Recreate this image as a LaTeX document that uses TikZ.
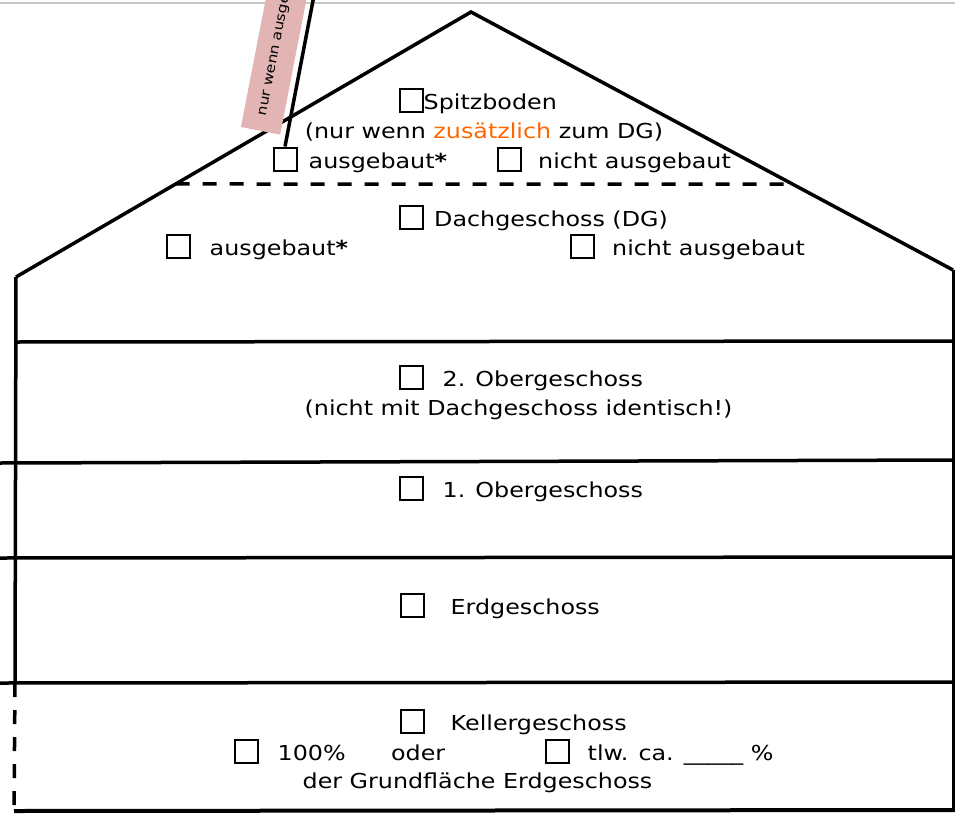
\documentclass[tikz,border=0pt]{standalone}
\usepackage{fontspec}
\setmainfont{DejaVu Sans}[FakeStretch=1.155]
\usetikzlibrary{positioning,calc}
\definecolor{tagpink}{RGB}{226,180,180}
\definecolor{hintorange}{RGB}{255,102,0}
\tikzstyle{cbox} = [draw,line width=2pt,minimum size=23pt,inner sep=0pt]
\tikzstyle{lbl} = [inner sep=0pt,text height=18pt,text depth=0pt,font=\fontsize{20.6}{28}\selectfont]
\tikzstyle{wall} = [line width=3.5pt]
\tikzstyle{dashwall} = [line width=3.5pt,dash pattern=on 14pt off 13pt]

\begin{document}
\begin{tikzpicture}[x=1pt,y=-1pt]
  \useasboundingbox (0,0) rectangle (955,816);
  % page edge
  \draw[line width=2pt,black!22] (0,3) -- (955,3);
  % Roof and walls
  \coordinate (eaveL) at (16,277);
  \coordinate (peak) at (471,12);
  \coordinate (eaveR) at (953,270);
  \draw[wall,line join=miter] (eaveL) -- (peak) -- (eaveR);
  \draw[line width=3pt] (eaveR) -- (953,811);
  \draw[wall] (eaveL) -- (15,683);
  \draw[dashwall] (15,683) -- (14,811);
  \draw[dashwall] ($(peak)!0.649!(eaveL)$) -- ($(peak)!0.667!(eaveR)$);
  % Floor lines
  \draw[wall] (16,342) -- (955,341);
  \draw[wall] (0,463) -- (955,460);
  \foreach \y in {558,683} {
    \draw[wall] (0,\y) -- (955,\y-1);
  }
  \draw[line width=4pt] (14,811) -- (955,810);
  % Tag
  \node[fill=tagpink,rotate=79,anchor=west,minimum height=40pt,inner xsep=15pt,text width=150pt,align=left,font=\fontsize{13.4}{15}\selectfont] (tag) at (260.5,131) {nur wenn ausge};
  % Spitzboden
  \node[cbox] (cbSpitz) at (411,100.5) {};
  \node[lbl,right=0pt of cbSpitz] (tSpitz) {Spitzboden};
  \node[lbl] (tSpitzNote) at (484,129) {(nur wenn \textcolor{hintorange}{zusätzlich} zum DG)};
  \node[cbox] (cbSpAus) at (285,159) {};
  \node[lbl,right=11pt of cbSpAus] (tSpAus) {ausgebaut\textbf{*}};
  \node[cbox] (cbSpNicht) at (509,159) {};
  \node[lbl,right=16.5pt of cbSpNicht] (tSpNicht) {nicht ausgebaut};
  \coordinate (tagEnd) at (316,-15);
  \draw[wall] (cbSpAus.north) -- (tagEnd);
  % Dachgeschoss
  \node[cbox] (cbDG) at (411.5,217.5) {};
  \node[lbl,right=10pt of cbDG] (tDG) {Dachgeschoss (DG)};
  \node[cbox] (cbDGAus) at (178,246.5) {};
  \node[lbl,right=19pt of cbDGAus] (tDGAus) {ausgebaut\textbf{*}};
  \node[cbox] (cbDGNicht) at (582,246.5) {};
  \node[lbl,right=17.5pt of cbDGNicht] (tDGNicht) {nicht ausgebaut};
  % Obergeschosse
  \node[cbox] (cbOGzwei) at (411,377.5) {};
  \node[lbl,right=19pt of cbOGzwei] (tOGzwei) {2. Obergeschoss};
  \node[lbl] (tOGzweiNote) at (518.5,406) {(nicht mit Dachgeschoss identisch!)};
  \node[cbox] (cbOGeins) at (411,488) {};
  \node[lbl,right=19pt of cbOGeins] (tOGeins) {1. Obergeschoss};
  % Erdgeschoss
  \node[cbox] (cbEG) at (412,605.5) {};
  \node[lbl,right=26pt of cbEG] (tEG) {Erdgeschoss};
  % Kellergeschoss
  \node[cbox] (cbKG) at (412,721.5) {};
  \node[lbl,right=26pt of cbKG] (tKG) {Kellergeschoss};
  \node[cbox] (cbVoll) at (246,751) {};
  \node[lbl,right=19pt of cbVoll] (tVoll) {100\%};
  \node[lbl,right=45pt of tVoll] (tOder) {oder};
  \node[cbox] (cbTeil) at (557,751) {};
  \node[lbl,right=18pt of cbTeil] (tTeil) {tlw. ca. \_\_\_\_\_ \%};
  \node[lbl] (tKGNote) at (477.5,779) {der Grundfläche Erdgeschoss};
\end{tikzpicture}
\end{document}
